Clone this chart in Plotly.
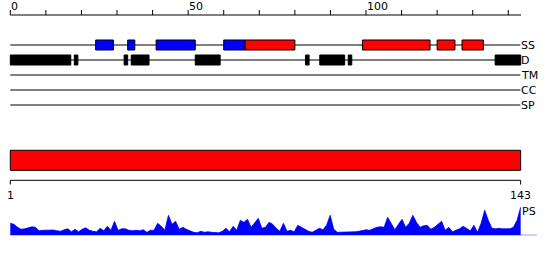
import plotly.graph_objects as go

# ---------------- data ----------------
seq_len = 143
ruler_ticks = list(range(0, 150, 10))
ruler_labels = {0: "0", 50: "50", 100: "100"}

track_names = ["SS", "D", "TM", "CC", "SP"]
track_rows = [45, 60, 75, 90, 105]

helix_segments = [(24, 29), (33, 35), (41, 52), (60, 66)]
strand_segments = [(66, 80), (99, 118), (120, 125), (127, 133)]
disorder_segments = [(0, 17), (18, 19), (32, 33), (34, 39), (52, 59),
                     (83, 84), (87, 94), (95, 96), (136.3, 143.5)]

domain_start, domain_end = 1, 143
bottom_labels = ["1", "143"]

ps_values = [12, 11, 8, 6, 6.5, 7.5, 8.5, 8, 4.5, 5,
             5.3, 5.3, 5.3, 4.5, 4, 5.5, 6.5, 3.5, 6, 3.5,
             6, 7.5, 5, 4, 3.5, 7, 4.5, 9, 5, 14,
             5, 6.5, 6.5, 5, 4.5, 5, 4.5, 5.5, 3, 5,
             5, 12, 9, 5, 20, 11, 14, 6, 8, 6,
             4.5, 3, 2.5, 4, 3, 3.5, 3, 2.5, 2.5, 4,
             7, 3.5, 9, 5, 15, 13, 16, 8, 12, 17,
             7, 8, 13, 11, 7, 4, 12, 4, 5, 3.5,
             10, 8, 6, 4, 3, 5, 7, 5.5, 10, 20,
             6, 3, 3, 3, 3, 3.5, 3.5, 4, 4.5, 5.5,
             5, 6.5, 8, 8.5, 8, 18, 11, 5.5, 11, 16,
             8, 12, 20, 13, 8, 9.5, 10, 6, 8, 11,
             14, 5, 8, 3.5, 5, 6.5, 9, 7, 4.5, 10,
             3, 12, 25, 15, 7, 6.5, 7, 6.5, 6.5, 6.5,
             8, 15, 28]
ps_positions = list(range(1, len(ps_values) + 1))

# ---------------- figure ----------------
W, H = 550, 260
FONT = dict(family="DejaVu Sans", size=11, color="black")
track_end = 143.4
px_top = 3.557      # px per residue, top ruler
px_bot = 3.594      # px per residue, bottom
x0px = 10.3

fig = go.Figure()

# profile
fig.add_trace(go.Scatter(
    x=ps_positions, y=ps_values, xaxis="x2", yaxis="y2",
    mode="lines", line=dict(color="#0000ff", width=0.8),
    fill="tozeroy", fillcolor="#0000ff", hoverinfo="skip", showlegend=False))

shapes = []
annots = []

# top ruler
shapes.append(dict(type="line", xref="x", yref="y", x0=0, x1=143.6, y0=15, y1=15,
                   line=dict(color="black", width=1)))
for t in ruler_ticks:
    shapes.append(dict(type="line", xref="x", yref="y", x0=t, x1=t, y0=10, y1=15,
                       line=dict(color="black", width=1)))
for t, lab in ruler_labels.items():
    annots.append(dict(x=t, y=6, xref="x", yref="y", text=lab, showarrow=False,
                       xanchor="left", yanchor="middle", xshift=-1, font=FONT))

# tracks
for name, row in zip(track_names, track_rows):
    shapes.append(dict(type="line", xref="x", yref="y", x0=0, x1=track_end,
                       y0=row, y1=row, line=dict(color="black", width=1)))
    annots.append(dict(x=track_end, y=row, xref="x", yref="y", text=name,
                       showarrow=False, xanchor="left", yanchor="middle",
                       xshift=-1, font=FONT))

ss_row = track_rows[0]
d_row = track_rows[1]
for a, b in helix_segments:
    shapes.append(dict(type="rect", xref="x", yref="y", x0=a, x1=b,
                       y0=ss_row - 5, y1=ss_row + 5, fillcolor="#0000ff",
                       line=dict(color="black", width=1)))
for a, b in strand_segments:
    shapes.append(dict(type="rect", xref="x", yref="y", x0=a, x1=b,
                       y0=ss_row - 5, y1=ss_row + 5, fillcolor="#ff0000",
                       line=dict(color="black", width=1)))
for a, b in disorder_segments:
    shapes.append(dict(type="rect", xref="x", yref="y", x0=a, x1=b,
                       y0=d_row - 5, y1=d_row + 5, fillcolor="black",
                       line=dict(color="black", width=1)))

# domain bar
shapes.append(dict(type="rect", xref="x2", yref="y", x0=domain_start, x1=domain_end,
                   y0=150.3, y1=170.3, fillcolor="#ff0000",
                   line=dict(color="black", width=1)))
# bottom ruler
shapes.append(dict(type="line", xref="x2", yref="y", x0=domain_start, x1=domain_end,
                   y0=180.3, y1=180.3, line=dict(color="black", width=1)))
for p, lab in zip([domain_start, domain_end], bottom_labels):
    shapes.append(dict(type="line", xref="x2", yref="y", x0=p, x1=p,
                       y0=180.3, y1=184.5, line=dict(color="black", width=1)))
    annots.append(dict(x=p, y=195.5, xref="x2", yref="y", text=lab, showarrow=False,
                       xanchor="center", yanchor="middle", font=FONT))

# profile baseline and label
shapes.append(dict(type="line", xref="x2", yref="y2", x0=domain_start, x1=147.5,
                   y0=0, y1=0, line=dict(color="#0000ff", width=1)))
annots.append(dict(x=domain_end, y=211, xref="x2", yref="y", text="PS",
                   showarrow=False, xanchor="left", yanchor="middle",
                   xshift=-1, font=FONT))

base_px = 235.3
prof_top_px = 200
fig.update_layout(
    width=W, height=H, margin=dict(l=0, r=0, t=0, b=0),
    paper_bgcolor="white", plot_bgcolor="white",
    showlegend=False, shapes=shapes, annotations=annots,
    xaxis=dict(range=[-x0px / px_top, (W - x0px) / px_top], visible=False,
               domain=[0, 1], fixedrange=True),
    xaxis2=dict(range=[1 - x0px / px_bot, 1 + (W - x0px) / px_bot], visible=False,
                domain=[0, 1], anchor="y2", fixedrange=True),
    yaxis=dict(range=[H, 0], visible=False, domain=[0, 1], fixedrange=True),
    yaxis2=dict(range=[0, base_px - prof_top_px], visible=False,
                domain=[(H - base_px) / H, (H - prof_top_px) / H],
                anchor="x2", fixedrange=True),
)

fig.write_html("out.html")
